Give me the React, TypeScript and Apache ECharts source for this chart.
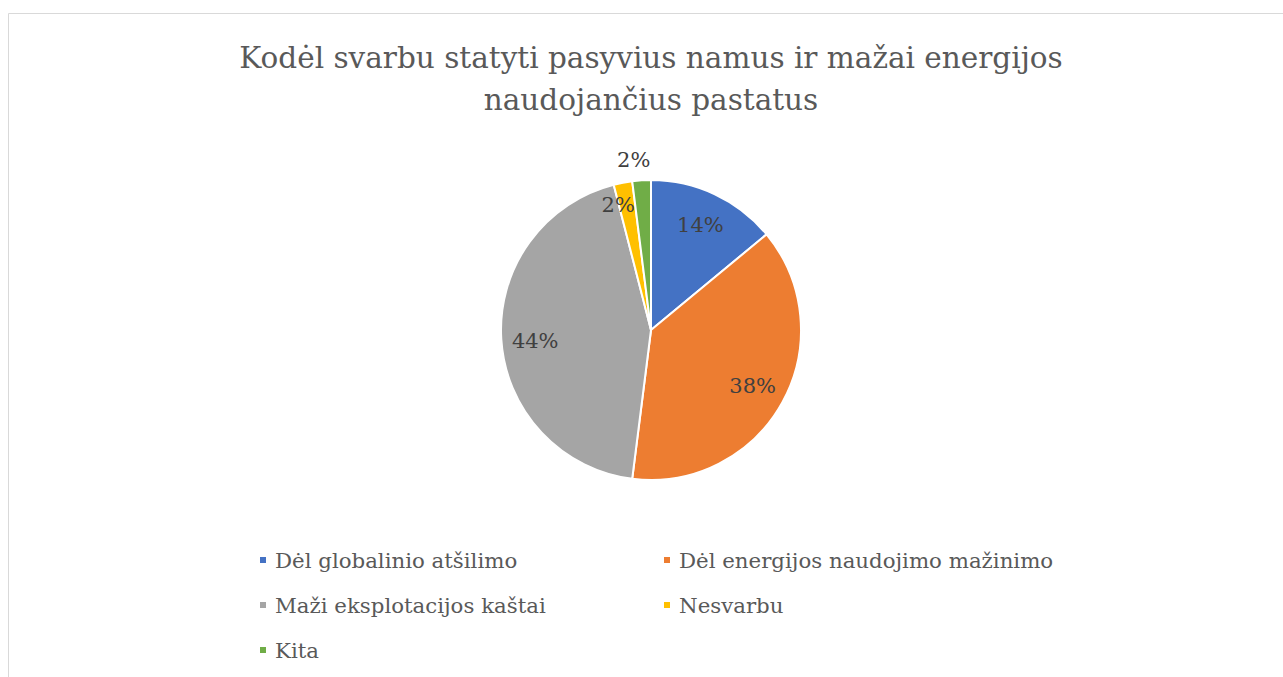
import React, { useEffect, useRef } from "react";
import * as echarts from "echarts";

const titleLines = ["Kodėl svarbu statyti pasyvius namus ir mažai energijos", "naudojančius pastatus"];
const categories = [
  "Dėl globalinio atšilimo",
  "Dėl energijos naudojimo mažinimo",
  "Maži eksplotacijos kaštai",
  "Nesvarbu",
  "Kita",
];
const values = [14, 38, 44, 2, 2];
const colors = ["#4472C4", "#ED7D31", "#A5A5A5", "#FFC000", "#70AD47"];
const legendLeftColumn = [categories[0], categories[2], categories[4]];
const legendRightColumn = [categories[1], categories[3]];

const FONT = "DejaVu Serif";

export default function App() {
  const ref = useRef<HTMLDivElement>(null);
  useEffect(() => {
    if (!ref.current) return;
    const chart = echarts.init(ref.current, undefined, { renderer: "svg" });
    const data = categories.map((name, i) => ({
      name,
      value: values[i],
      itemStyle: { color: colors[i] },
    }));
    const legendCommon = {
      orient: "vertical" as const,
      itemWidth: 8,
      itemHeight: 8,
      icon: "rect",
      itemGap: 21,
      padding: 0,
      textStyle: {
        fontFamily: FONT,
        fontSize: 21.3,
        color: "#595959",
        lineHeight: 24,
        padding: [0, 0, 0, 3],
      },
    };
    chart.setOption({
      animation: false,
      backgroundColor: "#ffffff",
      textStyle: { fontFamily: FONT },
      title: {
        text: titleLines.join("\n"),
        left: 651,
        top: 37,
        textAlign: "center",
        padding: 0,
        textStyle: {
          fontFamily: FONT,
          fontSize: 29.5,
          fontWeight: "normal",
          color: "#595959",
          lineHeight: 42,
        },
      },
      graphic: [
        {
          type: "rect",
          shape: { x: 8.5, y: 13.5, width: 1400, height: 800 },
          style: { fill: "none", stroke: "#d9d9d9", lineWidth: 1 },
          silent: true,
          z: -10,
        },
      ],
      legend: [
        { ...legendCommon, data: legendLeftColumn, left: 258, top: 548 },
        { ...legendCommon, data: legendRightColumn, left: 662, top: 548 },
      ],
      series: [
        {
          type: "pie",
          center: [651, 330],
          radius: 150,
          startAngle: 90,
          clockwise: true,
          data,
          itemStyle: { borderColor: "#ffffff", borderWidth: 2 },
          label: { show: false },
          labelLine: { show: false },
          silent: true,
        },
        {
          type: "pie",
          center: [651, 330],
          radius: [76, 150],
          startAngle: 90,
          clockwise: true,
          data: categories.map((name, i) => ({
            name,
            value: values[i],
            itemStyle: { color: "rgba(0,0,0,0)" },
          })),
          silent: true,
          label: {
            show: true,
            position: "inside",
            formatter: "{d}%",
            fontFamily: FONT,
            fontSize: 21,
            color: "#404040",
          },
          labelLine: { show: false },
          labelLayout: (p: any) => {
            if (p.dataIndex === 2) return { dy: 4 };
            if (p.dataIndex === 3) return { dx: -11, dy: -11 };
            if (p.dataIndex === 4) return { dx: -10, dy: -54 };
            return {};
          },
        },
      ],
    });
    return () => chart.dispose();
  }, []);
  return (
    <div
      ref={ref}
      style={{ position: "fixed", left: 0, top: 0, width: 1283, height: 677 }}
    />
  );
}
